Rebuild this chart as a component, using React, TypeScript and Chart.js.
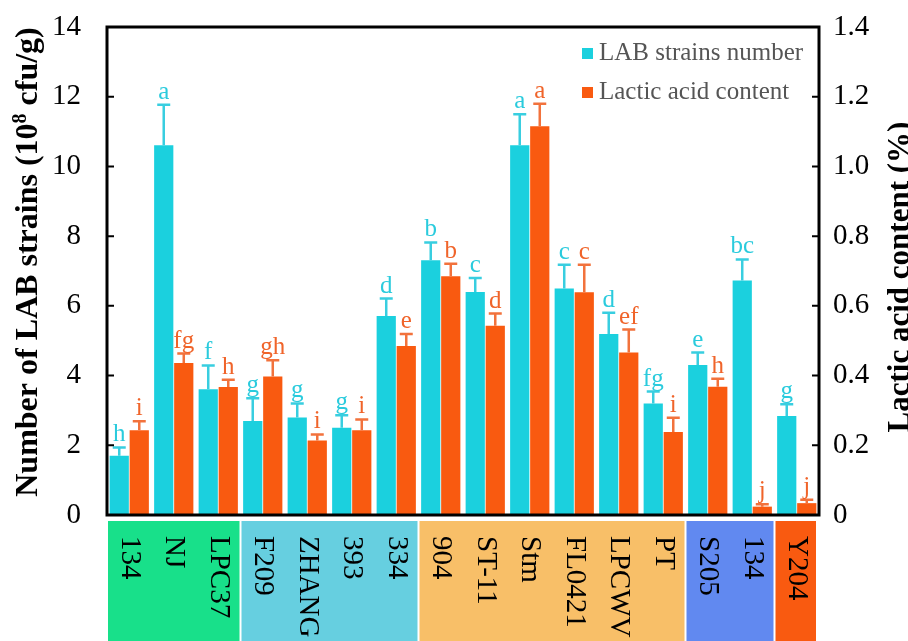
import React, { useEffect, useRef } from 'react';
import { Chart, registerables } from 'chart.js';

Chart.register(...registerables);

// Strains shown along the x axis
const strains = ['134', 'NJ', 'LPC37', 'F209', 'ZHANG', '393', '334', '904', 'ST-11', 'Stm', 'FL0421', 'LPCWV', 'PT', 'S205', '134', 'Y204'];

// LAB strains number (10^8 cfu/g) with standard deviations and significance letters
const labCounts = [1.70, 10.61, 3.61, 2.70, 2.80, 2.50, 5.71, 7.31, 6.40, 10.61, 6.50, 5.19, 3.20, 4.30, 6.73, 2.84];
const labSd = [0.24, 1.16, 0.68, 0.65, 0.40, 0.36, 0.50, 0.51, 0.40, 0.89, 0.68, 0.61, 0.34, 0.36, 0.60, 0.34];
const labLetters = ['h', 'a', 'f', 'g', 'g', 'g', 'd', 'b', 'c', 'a', 'c', 'd', 'fg', 'e', 'bc', 'g'];

// Lactic acid content (%) with standard deviations and significance letters
const lacticAcid = [0.243, 0.436, 0.367, 0.397, 0.214, 0.243, 0.485, 0.685, 0.543, 1.115, 0.639, 0.466, 0.238, 0.368, 0.024, 0.034];
const lacticSd = [0.026, 0.027, 0.021, 0.047, 0.017, 0.031, 0.034, 0.036, 0.035, 0.065, 0.079, 0.066, 0.041, 0.023, 0.007, 0.010];
const lacticLetters = ['i', 'fg', 'h', 'gh', 'i', 'i', 'e', 'b', 'd', 'a', 'c', 'ef', 'i', 'h', 'j', 'j'];

// Source groups of the strains (first and last index of each group)
const groupStart = [0, 3, 7, 13, 15];
const groupEnd = [2, 6, 12, 14, 15];
const groupColors = ['#18E08A', '#66CFE0', '#F8BF68', '#6189F0', '#F95A10'];

const leftTicks = [0, 2, 4, 6, 8, 10, 12, 14];
const rightTicks = [0, 0.2, 0.4, 0.6, 0.8, 1.0, 1.2, 1.4];

const CYAN = '#1BD0DE';
const ORANGE = '#F95A10';
const CYAN_ERR = '#38CEE0';
const ORANGE_ERR = '#F2723C';
const CYAN_TXT = '#2ACBDD';
const ORANGE_TXT = '#F0642A';
const SERIF = '"Liberation Serif", "Times New Roman", serif';

const decorations = {
  id: 'decorations',
  afterDatasetsDraw(chart: any) {
    const { ctx, chartArea } = chart;
    const y = chart.scales.y;
    const y1 = chart.scales.y1;
    const sets = [
      { meta: chart.getDatasetMeta(0), vals: labCounts, sd: labSd, letters: labLetters, scale: y, err: CYAN_ERR, txt: CYAN_TXT },
      { meta: chart.getDatasetMeta(1), vals: lacticAcid, sd: lacticSd, letters: lacticLetters, scale: y1, err: ORANGE_ERR, txt: ORANGE_TXT },
    ];
    ctx.save();
    for (const s of sets) {
      s.meta.data.forEach((bar: any, i: number) => {
        const x = bar.x;
        const top = s.scale.getPixelForValue(s.vals[i]);
        const capY = s.scale.getPixelForValue(s.vals[i] + s.sd[i]);
        ctx.strokeStyle = s.err;
        ctx.lineWidth = 2.5;
        ctx.beginPath();
        ctx.moveTo(x, top);
        ctx.lineTo(x, capY);
        ctx.moveTo(x - 6.5, capY);
        ctx.lineTo(x + 6.5, capY);
        ctx.stroke();
        ctx.fillStyle = s.txt;
        ctx.font = `25px ${SERIF}`;
        ctx.textAlign = 'center';
        ctx.textBaseline = 'alphabetic';
        ctx.fillText(s.letters[i], x, capY - 6);
      });
    }

    // frame
    ctx.strokeStyle = '#000';
    ctx.lineWidth = 3;
    ctx.strokeRect(chartArea.left, chartArea.top, chartArea.right - chartArea.left, chartArea.bottom - chartArea.top);

    // inward tick marks
    ctx.lineWidth = 2;
    ctx.beginPath();
    leftTicks.forEach((v) => {
      const p = y.getPixelForValue(v);
      ctx.moveTo(chartArea.left, p);
      ctx.lineTo(chartArea.left + 7, p);
    });
    rightTicks.forEach((v) => {
      const p = y1.getPixelForValue(v);
      ctx.moveTo(chartArea.right, p);
      ctx.lineTo(chartArea.right - 7, p);
    });
    ctx.stroke();

    // legend
    const legend = [
      { label: 'LAB strains number', color: CYAN, y: 60 },
      { label: 'Lactic acid content', color: ORANGE, y: 99 },
    ];
    ctx.font = `25px ${SERIF}`;
    ctx.textAlign = 'left';
    ctx.textBaseline = 'alphabetic';
    legend.forEach((l) => {
      ctx.fillStyle = l.color;
      ctx.fillRect(582, l.y - 12, 11, 11);
      ctx.fillStyle = '#555555';
      ctx.fillText(l.label, 599, l.y);
    });
    ctx.restore();
  },
  afterDraw(chart: any) {
    const { ctx, chartArea } = chart;
    const x = chart.scales.x;
    const cw = (chartArea.right - chartArea.left) / strains.length;
    ctx.save();

    // group boxes under the axis
    groupStart.forEach((a, g) => {
      const b = groupEnd[g];
      const left = x.getPixelForValue(a) - cw / 2 + 1;
      const right = x.getPixelForValue(b) + cw / 2 - (b === strains.length - 1 ? 3 : 1);
      ctx.fillStyle = groupColors[g];
      ctx.fillRect(left, chartArea.bottom + 6, right - left, chart.height - chartArea.bottom - 6);
    });

    // strain names, rotated
    ctx.fillStyle = '#000';
    ctx.font = `29px ${SERIF}`;
    ctx.textAlign = 'left';
    ctx.textBaseline = 'middle';
    strains.forEach((s, i) => {
      ctx.save();
      ctx.translate(x.getPixelForValue(i), chartArea.bottom + 21);
      ctx.rotate(Math.PI / 2);
      ctx.fillText(s, 0, 0);
      ctx.restore();
    });

    // left axis title with superscript
    const big = `bold 32px ${SERIF}`;
    const small = `bold 20px ${SERIF}`;
    const p1 = 'Number of LAB strains (10';
    const p2 = '8';
    const p3 = ' cfu/g)';
    ctx.textBaseline = 'alphabetic';
    ctx.font = big;
    const w1 = ctx.measureText(p1).width;
    const w3 = ctx.measureText(p3).width;
    ctx.font = small;
    const w2 = ctx.measureText(p2).width;
    const total = w1 + w2 + w3;
    ctx.save();
    ctx.translate(37, 262);
    ctx.rotate(-Math.PI / 2);
    let cx = -total / 2;
    ctx.font = big;
    ctx.fillText(p1, cx, 0);
    cx += w1;
    ctx.font = small;
    ctx.fillText(p2, cx, -11);
    cx += w2;
    ctx.font = big;
    ctx.fillText(p3, cx, 0);
    ctx.restore();

    // right axis title
    ctx.save();
    ctx.translate(909, 277);
    ctx.rotate(-Math.PI / 2);
    ctx.font = `bold 31px ${SERIF}`;
    ctx.textAlign = 'center';
    ctx.fillText('Lactic acid content (%)', 0, 0);
    ctx.restore();

    ctx.restore();
  },
};

export default function App() {
  const ref = useRef<HTMLCanvasElement | null>(null);

  useEffect(() => {
    if (!ref.current) return;
    const chart = new Chart(ref.current, {
      type: 'bar',
      data: {
        labels: strains,
        datasets: [
          { label: 'LAB strains number', data: labCounts, backgroundColor: CYAN, yAxisID: 'y', categoryPercentage: 0.9, barPercentage: 0.96 },
          { label: 'Lactic acid content', data: lacticAcid, backgroundColor: ORANGE, yAxisID: 'y1', categoryPercentage: 0.9, barPercentage: 0.96 },
        ],
      },
      options: {
        responsive: false,
        animation: false,
        layout: { padding: { top: 27, bottom: 126, left: 0, right: 0 } },
        plugins: { legend: { display: false }, tooltip: { enabled: false } },
        scales: {
          x: { display: false },
          y: {
            position: 'left',
            min: 0,
            max: 14,
            afterFit: (s: any) => { s.width = 107; },
            afterBuildTicks: (s: any) => { s.ticks = leftTicks.map((v) => ({ value: v })); },
            grid: { display: true, drawOnChartArea: false, drawTicks: true, tickLength: 17, tickColor: 'rgba(0,0,0,0)', color: 'rgba(0,0,0,0)' },
            border: { display: false },
            ticks: { color: '#000', padding: 9, font: { family: SERIF, size: 29 } },
          },
          y1: {
            position: 'right',
            min: 0,
            max: 1.4,
            afterFit: (s: any) => { s.width = 89; },
            afterBuildTicks: (s: any) => { s.ticks = rightTicks.map((v) => ({ value: v })); },
            grid: { display: true, drawOnChartArea: false, drawTicks: true, tickLength: 10, tickColor: 'rgba(0,0,0,0)', color: 'rgba(0,0,0,0)' },
            border: { display: false },
            ticks: {
              color: '#000',
              padding: 4,
              font: { family: SERIF, size: 29 },
              callback: (v: any) => (Number(v) === 0 ? '0' : Number(v).toFixed(1)),
            },
          },
        },
      },
      plugins: [decorations],
    });
    return () => chart.destroy();
  }, []);

  return (
    <div style={{ position: 'absolute', left: 0, top: 0, width: 908, height: 641, background: '#fff' }}>
      <canvas ref={ref} width={908} height={641} style={{ display: 'block' }} />
    </div>
  );
}
